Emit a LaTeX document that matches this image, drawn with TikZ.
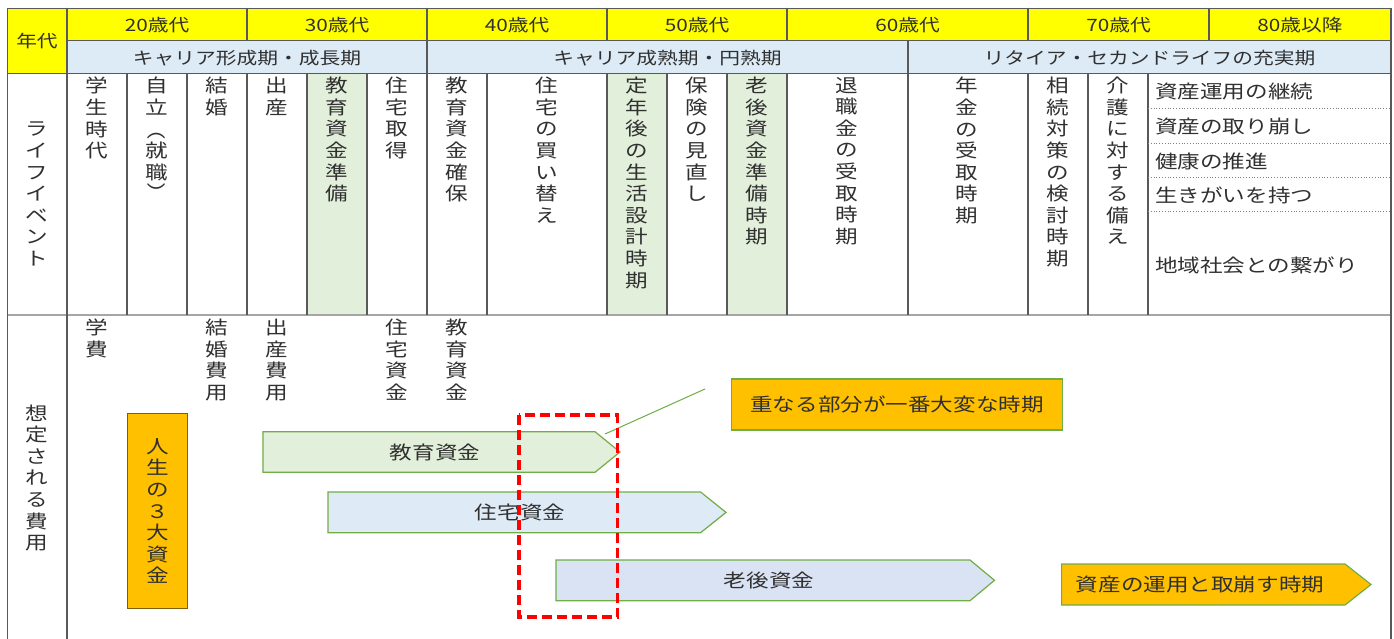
\documentclass[tikz,border=0pt]{standalone}
\usepackage{graphicx}
\usepackage{fontspec}
\setmainfont[FakeStretch=1.22]{Noto Sans CJK JP}
\definecolor{hdryellow}{HTML}{FFFF00}
\definecolor{hdrblue}{HTML}{DDEBF7}
\definecolor{evgreen}{HTML}{E2EFDA}
\definecolor{gridgray}{HTML}{595959}
\definecolor{gridlight}{HTML}{A6A6A6}
\definecolor{accgreen}{HTML}{70AD47}
\definecolor{gold}{HTML}{FFC000}
\definecolor{goldedge}{HTML}{7F6000}
\definecolor{skyfill}{HTML}{DEEBF7}
\definecolor{lavfill}{HTML}{DAE3F3}
\definecolor{txt}{HTML}{303030}
\tikzset{
  grid/.style={draw=gridgray, line width=1.2pt},
  hdr/.style={font=\fontsize{17}{19}\selectfont, text=txt, inner sep=0pt},
  vt/.style={font=\fontsize{18.5}{21.6}\selectfont, text=txt, align=center, anchor=north, inner sep=0pt},
  vtc/.style={font=\fontsize{18.5}{21.6}\selectfont, text=txt, align=center, inner sep=0pt},
  lbl/.style={font=\fontsize{18.5}{21}\selectfont, text=txt, inner sep=0pt},
  arrowbox/.style={draw=accgreen, line width=1.2pt},
}
\newcommand\vparL{\rotatebox[origin=c]{-90}{（}}
\newcommand\vparR{\rotatebox[origin=c]{-90}{）}}
\begin{document}
\begin{tikzpicture}[x=1pt,y=-1pt]
\useasboundingbox (0,0) rectangle (1394,639);
% fills
\fill[hdryellow] (7.5,8.5) rectangle (67,73.3);
\fill[hdryellow] (67,8.5) rectangle (1391,40.7);
\fill[hdrblue] (67,40.7) rectangle (1391,73.3);
\foreach \xa/\xb in {307/367,607/667,727/787}
  \fill[evgreen] (\xa,73.3) rectangle (\xb,314.5);
% grid
\draw[grid] (7.5,8.5) -- (1391,8.5);
\draw[grid] (67,40.7) -- (1391,40.7);
\draw[grid] (7.5,73.3) -- (1391,73.3);
\draw[draw=gridlight, line width=2pt] (7.5,314.5) -- (1391,314.5);
\draw[grid] (7.5,8.5) -- (7.5,639);
\draw[grid] (1391,8.5) -- (1391,639);
\draw[grid] (67,8.5) -- (67,639);
\foreach \x in {247,427,607,787,1028,1209}
  \draw[grid] (\x,8.5) -- (\x,40.7);
\foreach \x in {427,908}
  \draw[grid] (\x,40.7) -- (\x,73.3);
\foreach \x in {127,187,247,307,367,427,487,607,667,727,787,908,1028,1088,1148}
  \draw[grid] (\x,73.3) -- (\x,314.5);
\foreach \y in {108,143,177,211}
  \draw[draw=gray, line width=0.8pt, dotted] (1148,\y) -- (1391,\y);
% headers
\node[hdr] (nendai) at (37,41) {年代};
\node[hdr] (a20) at (157,25) {20歳代};
\node[hdr] (a30) at (337,25) {30歳代};
\node[hdr] (a40) at (517,25) {40歳代};
\node[hdr] (a50) at (697,25) {50歳代};
\node[hdr] (a60) at (907.5,25) {60歳代};
\node[hdr] (a70) at (1118.5,25) {70歳代};
\node[hdr] (a80) at (1300,25) {80歳以降};
\node[hdr] (p1) at (247,58) {キャリア形成期・成長期};
\node[hdr] (p2) at (667.5,58) {キャリア成熟期・円熟期};
\node[hdr] (p3) at (1149.5,58) {リタイア・セカンドライフの充実期};
% left labels
\node[vtc] (life) at (37,194) {ラ\\イ\\フ\\イ\\ベ\\ン\\ト};
\node[vtc] (cost) at (37,478) {想\\定\\さ\\れ\\る\\費\\用};
% life events
\node[vt] (e1) at (97,77) {学\\生\\時\\代};
\node[vt] (e2) at (157,77) {自\\立\\\vparL\\就\\職\\\vparR};
\node[vt] (e3) at (217,77) {結\\婚};
\node[vt] (e4) at (277,77) {出\\産};
\node[vt] (e5) at (337,77) {教\\育\\資\\金\\準\\備};
\node[vt] (e6) at (397,77) {住\\宅\\取\\得};
\node[vt] (e7) at (457,77) {教\\育\\資\\金\\確\\保};
\node[vt] (e8) at (547,77) {住\\宅\\の\\買\\い\\替\\え};
\node[vt] (e9) at (637,77) {定\\年\\後\\の\\生\\活\\設\\計\\時\\期};
\node[vt] (e10) at (697,77) {保\\険\\の\\見\\直\\し};
\node[vt] (e11) at (757,77) {老\\後\\資\\金\\準\\備\\時\\期};
\node[vt] (e12) at (847,77) {退\\職\\金\\の\\受\\取\\時\\期};
\node[vt] (e13) at (967,77) {年\\金\\の\\受\\取\\時\\期};
\node[vt] (e14) at (1058,77) {相\\続\\対\\策\\の\\検\\討\\時\\期};
\node[vt] (e15) at (1118,77) {介\\護\\に\\対\\す\\る\\備\\え};
\node[lbl, anchor=west] (r1) at (1155,92) {資産運用の継続};
\node[lbl, anchor=west] (r2) at (1155,127) {資産の取り崩し};
\node[lbl, anchor=west] (r3) at (1155,161) {健康の推進};
\node[lbl, anchor=west] (r4) at (1155,195) {生きがいを持つ};
\node[lbl, anchor=west] (r5) at (1155,265) {地域社会との繋がり};
% costs
\node[vt] (c1) at (97,319) {学\\費};
\node[vt] (c3) at (217,319) {結\\婚\\費\\用};
\node[vt] (c4) at (277,319) {出\\産\\費\\用};
\node[vt] (c6) at (397,319) {住\\宅\\資\\金};
\node[vt] (c7) at (457,319) {教\\育\\資\\金};
% big three
\draw[fill=gold, draw=goldedge, line width=1pt] (127.7,413) rectangle (187.5,608);
\node[vtc] (three) at (157.5,511) {人\\生\\の\\３\\大\\資\\金};
% arrows
\draw[arrowbox, fill=evgreen] (263,431.7) -- (595,431.7) -- (620,452) -- (595,472.3) -- (263,472.3) -- cycle;
\node[lbl] (edu) at (435,452) {教育資金};
\draw[arrowbox, fill=skyfill] (328,492) -- (700.6,492) -- (726,512.4) -- (700.6,532.7) -- (328,532.7) -- cycle;
\node[lbl] (house) at (520,512.4) {住宅資金};
\draw[arrowbox, fill=lavfill] (556,560) -- (970,560) -- (994.5,580.3) -- (970,600.7) -- (556,600.7) -- cycle;
\node[lbl] (retire) at (769,580.3) {老後資金};
\draw[arrowbox, fill=gold] (1061.6,564) -- (1345,564) -- (1371,584.5) -- (1345,605) -- (1061.6,605) -- cycle;
\node[lbl] (manage) at (1200,584.5) {資産の運用と取崩す時期};
% callout
\node[lbl, draw=accgreen, line width=1.2pt, fill=gold, minimum width=331.5pt, minimum height=51pt] (hard) at (897,404.5) {重なる部分が一番大変な時期};
\coordinate (cA) at (605,434);
\coordinate (cB) at (705,389);
\draw[accgreen, line width=1pt] (cA) -- (cB);
% red dashed
\draw[red, line width=3.5pt, dash pattern=on 10pt off 5pt] (519,415) rectangle (617.5,617);
\end{tikzpicture}
\end{document}
